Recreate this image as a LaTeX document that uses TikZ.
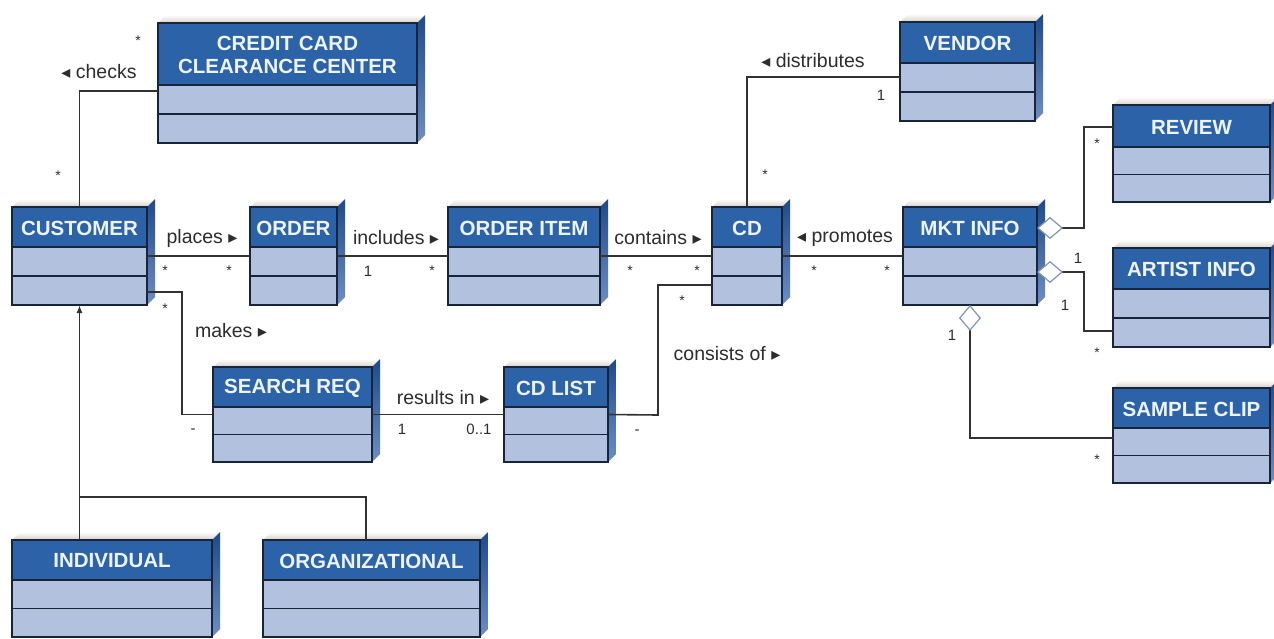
\documentclass[tikz,border=0pt]{standalone}
\usepackage{fontspec}
\setmainfont{Liberation Sans}
\newfontfamily\symfont{DejaVu Sans}
\usetikzlibrary{arrows.meta,calc}

\definecolor{hdblue}{RGB}{44,98,168}
\definecolor{compblue}{RGB}{178,194,222}
\definecolor{edgecol}{RGB}{22,36,60}
\definecolor{sidedark}{RGB}{30,74,138}
\definecolor{sidelight}{RGB}{110,142,196}
\definecolor{shadowgray}{RGB}{214,208,198}
\definecolor{titlecol}{RGB}{238,244,255}
\definecolor{linecol}{RGB}{50,50,50}
\definecolor{labelcol}{RGB}{45,45,45}
\definecolor{diamondcol}{RGB}{130,148,180}

\newcommand\ltri{{\symfont\fontsize{18}{18}\selectfont ◂}}
\newcommand\rtri{{\symfont\fontsize{18}{18}\selectfont ▸}}

\tikzset{
  classbox/.style={draw=edgecol, line width=1.3pt, inner sep=0pt, outer sep=0pt,
    anchor=north west, rectangle},
  divider/.style={draw=edgecol, line width=1.3pt},
  classtitle/.style={text=titlecol, font=\bfseries\fontsize{20.5}{23}\selectfont,
    align=center, inner sep=0pt},
  conn/.style={draw=linecol, line width=1.6pt},
  assoc/.style={text=labelcol, font=\fontsize{19.5}{22}\selectfont, inner sep=0pt},
  mult/.style={text=labelcol, font=\fontsize{15}{16}\selectfont, inner sep=0pt},
  star/.style={text=labelcol, font=\fontsize{14}{14}\selectfont, inner sep=0pt, yshift=-3pt},
  aggr/.style={conn, {Diamond[length=26pt,width=22pt,line width=1.2pt,color=diamondcol,fill=white]}-},
  gen/.style={conn, -{Latex[length=8pt,width=6pt]}},
}

% UML class box: name, x1, y1, x2, y2, header height, title
\newcommand\umlclass[7]{%
  \pgfmathsetmacro\clsW{#4-#2}%
  \pgfmathsetmacro\clsH{#5-#3}%
  \pgfmathsetmacro\clsHead{#3+#6}%
  \pgfmathsetmacro\clsMid{(#3+#6+#5)/2}%
  \shade[top color=white, bottom color=shadowgray]
    (#2,#3) -- (#2+8,#3-8) -- (#4+8,#3-8) -- (#4,#3) -- cycle;
  \shade[top color=sidedark, bottom color=sidelight]
    (#4,#3) -- (#4+8,#3-8) -- (#4+8,#5-8) -- (#4,#5) -- cycle;
  \fill[compblue] (#2,\clsHead) rectangle (#4,#5);
  \fill[hdblue] (#2,#3) rectangle (#4,\clsHead);
  \draw[divider] (#2,\clsHead) -- (#4,\clsHead);
  \draw[divider] (#2,\clsMid) -- (#4,\clsMid);
  \node[classbox, minimum width=\clsW pt, minimum height=\clsH pt] (#1) at (#2,#3) {};
  \node[classtitle] at ({(#2+#4)/2},{(#3+\clsHead)/2+1}) {#7};
}

\begin{document}
\begin{tikzpicture}[x=1pt,y=-1pt]
\useasboundingbox[fill=white] (0,0) rectangle (1274,638);

% classes
\umlclass{ccc}{158}{23}{417}{143}{62}{CREDIT CARD\\CLEARANCE CENTER}
\umlclass{cust}{12}{207}{147}{305}{40}{CUSTOMER}
\umlclass{order}{250}{207}{337}{305}{40}{ORDER}
\umlclass{item}{448}{207}{600}{305}{40}{ORDER ITEM}
\umlclass{cd}{712}{207}{782}{305}{40}{CD}
\umlclass{vendor}{900}{22}{1035}{121}{41}{VENDOR}
\umlclass{mkt}{903}{207}{1037}{305}{40}{MKT INFO}
\umlclass{review}{1113}{105}{1270}{202}{42}{REVIEW}
\umlclass{artist}{1113}{248}{1270}{347}{41}{ARTIST INFO}
\umlclass{sample}{1113}{388}{1270}{483}{40}{SAMPLE CLIP}
\umlclass{sreq}{213}{367}{372}{462}{40}{SEARCH REQ}
\umlclass{cdlist}{504}{367}{608}{462}{40}{CD LIST}
\umlclass{ind}{12}{540}{212}{637}{40}{INDIVIDUAL}
\umlclass{org}{263}{540}{480}{637}{40}{ORGANIZATIONAL}

% associations
\draw[conn] (cust.north) |- ([yshift=-8pt]ccc.west);
\draw[conn] (cust.east) -- (order.west);
\draw[conn] (order.east) -- (item.west);
\draw[conn] (item.east) -- (cd.west);
\draw[conn] (cd.east) -- (mkt.west);
\draw[conn] (cd.north) |- ([yshift=-5.5pt]vendor.west);
\draw[conn] ([yshift=-36pt]cust.east) -- (182,292) |- (sreq.west);
\draw[conn] (sreq.east) -- (cdlist.west);
\draw[conn] (cdlist.east) -- (658,415) |- ([yshift=-29pt]cd.west);

% aggregations
\draw[aggr] ([yshift=28pt]mkt.east) -- (1084,228) |- ([yshift=26.5pt]review.west);
\draw[aggr] ([yshift=-16pt]mkt.east) -- (1084,272) |- ([yshift=-33.5pt]artist.west);
\draw[aggr] (mkt.south) |- ([yshift=-2.5pt]sample.west);

% generalization
\coordinate (genjoin) at (80,497);
\draw[gen] (ind.north -| cust.south) -- (cust.south);
\draw[conn] ([xshift=-5.5pt]org.north) |- (genjoin);

% association names
\node[assoc] at (99,72) {\ltri\ checks};
\node[assoc] at (202,238) {places \rtri};
\node[assoc] at (396,238) {includes \rtri};
\node[assoc] at (658,238) {contains \rtri};
\node[assoc] at (845,238) {\ltri\ promotes};
\node[assoc] at (813,61) {\ltri\ distributes};
\node[assoc] at (231,331) {makes \rtri};
\node[assoc] at (443,398) {results in \rtri};
\node[assoc] at (727,354) {consists of \rtri};

% multiplicities
\node[star] at (138,38) {*};
\node[star] at (58,173) {*};
\node[star] at (165,268) {*};
\node[star] at (229,268) {*};
\node[mult] at (368,271) {1};
\node[star] at (432,268) {*};
\node[star] at (630,268) {*};
\node[star] at (697,268) {*};
\node[star] at (814,268) {*};
\node[star] at (887,268) {*};
\node[mult] at (881,95) {1};
\node[star] at (765,172) {*};
\node[star] at (165,306) {*};
\node[mult] at (193,431) {-};
\node[mult] at (402,429) {1};
\node[mult] at (479,429) {0..1};
\node[mult] at (637,432) {-};
\node[star] at (682,298) {*};
\node[star] at (1097,141) {*};
\node[mult] at (1078,258) {1};
\node[mult] at (1065,305) {1};
\node[star] at (1097,350) {*};
\node[mult] at (952,335) {1};
\node[star] at (1097,457) {*};
\end{tikzpicture}
\end{document}
